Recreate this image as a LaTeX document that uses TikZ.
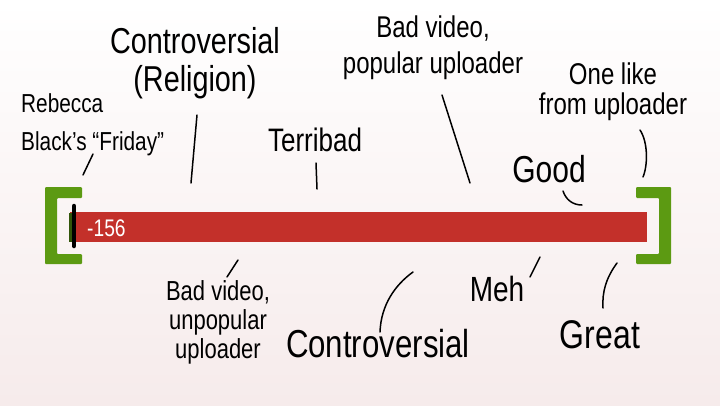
\documentclass[tikz,border=0pt]{standalone}
\usepackage{fontspec}
\setmainfont{Liberation Sans}[FakeStretch=0.8]
\usetikzlibrary{positioning}
\definecolor{corBarra}{RGB}{195, 48, 42}
\definecolor{corVerde}{RGB}{92, 154, 18}
\definecolor{corFundo}{RGB}{246, 235, 235}

\begin{document}
\begin{tikzpicture}[x=1pt, y=-1pt,
    rotulo/.style={inner sep=0pt, align=center, text=black},
    traco/.style={line width=1.5pt, line cap=round},
    colchete/.style={fill=corVerde, rounded corners=1pt}
]
\fill[top color=white, bottom color=corFundo] (0,0) rectangle (720,405);
\useasboundingbox (0,0) rectangle (720,405);

% barra e colchetes
\node[fill=corBarra, minimum width=577pt, minimum height=30pt, inner sep=0pt, anchor=north west] (barra) at (70,212) {};
\fill[corVerde!55!black] (69,213) rectangle (73,242);
\draw[line width=4.5pt, line cap=round] (74,206) -- (74,246);
\node[text=white, inner sep=0pt, font=\fontsize{24}{24}\selectfont, anchor=west] (valor) at (87,228) {-156};
\fill[colchete] (82,187) -- (45,187) -- (45,264) -- (82,264) -- (82,254) -- (57,254) -- (57,198) -- (82,198) -- cycle;
\fill[colchete] (636,187) -- (671,187) -- (671,264) -- (636,264) -- (636,254) -- (659,254) -- (659,198) -- (636,198) -- cycle;

% rotulos de cima
\node[rotulo, align=left, anchor=west, font=\fontsize{26}{38}\selectfont] (rebecca) at (21,125) {Rebecca\\Black's “Friday”};
\node[rotulo, font=\fontsize{36}{38}\selectfont] (religiao) at (195,63) {Controversial\\(Religion)};
\node[rotulo, font=\fontsize{32.5}{30}\selectfont] (terribad) at (315,140) {Terribad};
\node[rotulo, font=\fontsize{30}{36}\selectfont] (badpop) at (433,48) {Bad video,\\popular uploader};
\node[rotulo, font=\fontsize{30}{30}\selectfont] (umlike) at (613,92) {One like\\from uploader};
\node[rotulo, font=\fontsize{37.5}{30}\selectfont] (good) at (549,169) {Good};

% rotulos de baixo
\node[rotulo, font=\fontsize{27.5}{29}\selectfont] (badunpop) at (218,322) {Bad video,\\unpopular\\uploader};
\node[rotulo, font=\fontsize{39}{31}\selectfont] (controv) at (378,344) {Controversial};
\node[rotulo, font=\fontsize{35}{28}\selectfont] (meh) at (497,289) {Meh};
\node[rotulo, font=\fontsize{40}{32}\selectfont] (great) at (600,335) {Great};

% tracos
\coordinate (rebA) at (93,154);  \coordinate (rebB) at (83,175);
\coordinate (relA) at (197,115); \coordinate (relB) at (191,183);
\coordinate (terA) at (316,163); \coordinate (terB) at (317,189);
\coordinate (popA) at (442,95);  \coordinate (popB) at (470,183);
\coordinate (oneA) at (640,130); \coordinate (oneB) at (643,177);
\coordinate (gooA) at (563,191); \coordinate (gooB) at (582,205);
\coordinate (unpA) at (238,260); \coordinate (unpB) at (227,277);
\coordinate (conA) at (413,272); \coordinate (conB) at (380,332);
\coordinate (mehA) at (540,257); \coordinate (mehB) at (530,277);
\coordinate (greA) at (617,263); \coordinate (greB) at (603,308);

\draw[traco] (rebA) -- (rebB);
\draw[traco] (relA) -- (relB);
\draw[traco] (terA) -- (terB);
\draw[traco] (popA) -- (popB);
\draw[traco] (oneA) .. controls (648,142) and (648,165) .. (oneB);
\draw[traco] (gooA) .. controls (566,200) and (573,205) .. (gooB);
\draw[traco] (unpA) -- (unpB);
\draw[traco] (conA) .. controls (395,285) and (381,305) .. (conB);
\draw[traco] (mehA) -- (mehB);
\draw[traco] (greA) .. controls (606,278) and (602,292) .. (greB);
\end{tikzpicture}
\end{document}
